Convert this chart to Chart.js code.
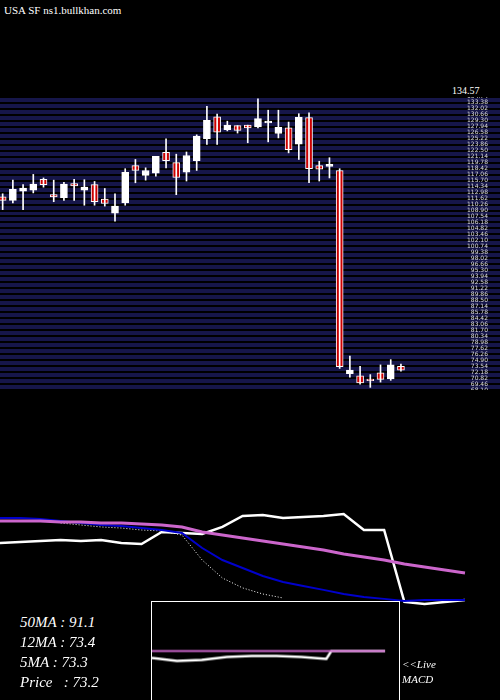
<!DOCTYPE html>
<html><head><meta charset="utf-8">
<script src="https://cdn.jsdelivr.net/npm/chart.js@4"></script>
<style>
body{margin:0;background:#000;width:500px;height:700px;overflow:hidden;position:relative;font-family:"DejaVu Serif","Liberation Serif",serif;}
canvas{position:absolute;}
.t{position:absolute;color:#fff;font-family:"Liberation Serif",serif;font-style:italic;white-space:pre;}
</style></head><body>
<div class="t" style="left:4px;top:4px;font-size:11px;font-style:normal;">USA SF ns1.bullkhan.com</div>
<div class="t" style="left:452px;top:85px;font-size:10px;font-style:normal;">134.57</div>
<canvas id="c1" width="500" height="293" style="left:0;top:97px"></canvas>
<canvas id="c2" width="500" height="110" style="left:0;top:500px"></canvas>
<canvas id="c3" width="249" height="99" style="left:151px;top:601px;border:1px solid #fff;border-bottom:none;background:#000"></canvas>
<div class="t" style="left:20px;top:614px;font-size:15px;">50MA : 91.1</div>
<div class="t" style="left:20px;top:634px;font-size:15px;">12MA : 73.4</div>
<div class="t" style="left:20px;top:654px;font-size:15px;">5MA : 73.3</div>
<div class="t" style="left:20px;top:674px;font-size:15px;">Price   : 73.2</div>
<div class="t" style="left:402px;top:658px;font-size:11px;">&lt;&lt;Live</div>
<div class="t" style="left:402px;top:673px;font-size:11px;">MACD</div>
<script>
const opens  =[112.0,111.2,113.3,113.5,116.0,112.5,111.8,115.0,113.5,114.8,111.5,108.3,110.6,119.1,116.9,117.4,122.1,119.8,117.6,120.2,125.2,130.2,127.3,128.2,128.3,127.9,128.8,126.4,127.7,124.0,130.0,119.1,118.9,118.0,71.8,71.3,70.6,72.0,70.6,73.5];
const closes =[111.2,113.7,114.0,114.9,114.8,112.0,114.9,114.5,114.2,110.9,110.5,109.9,117.6,118.0,118.0,121.2,120.2,116.4,121.4,125.8,129.4,126.7,128.3,127.1,127.7,129.8,129.2,127.8,122.7,130.1,118.4,118.3,119.4,73.4,72.6,69.7,70.2,70.5,73.8,72.6];
const highs  =[112.7,115.8,114.8,117.1,116.3,115.8,115.3,116.0,115.9,115.5,113.9,112.7,118.4,120.5,118.6,121.2,125.2,121.7,122.2,126.1,132.6,130.8,129.2,128.2,128.3,134.3,131.7,131.7,129.0,130.9,131.1,120.1,120.9,118.4,75.8,73.5,71.6,73.8,75.0,74.0];
const lows   =[109.1,110.6,109.1,112.9,114.2,110.9,111.2,111.2,110.1,110.1,109.9,106.5,110.1,115.2,115.8,116.7,118.6,112.5,115.6,118.0,123.9,123.9,127.0,126.5,124.3,127.7,124.5,125.4,122.0,120.5,115.2,115.6,116.3,73.0,71.0,69.4,68.7,69.9,70.3,72.4];
const maLabels=[0,20,40,60,80,100,120,140,160,180,200,220,240,260,280,300,320,340,360,380,400,420,440,460];
const priceLine=[110.8,111.4,112.1,112.8,112.1,112.8,110.8,110.1,118.0,117.4,116.7,121.3,128.5,129.2,127.2,127.8,128.5,129.8,119.3,119.3,72.1,70.8,72.1,73.4];
const ma12=[127.2,127.2,126.5,125.2,123.9,122.6,121.9,120.6,119.3,117.4,107.5,99.6,94.4,89.1,85.2,82.6,80.0,77.3,75.4,74.1,72.7,73.4,73.4,73.4];
const ma50=[125.2,125.2,125.2,124.6,124.6,123.9,123.9,123.3,122.6,121.3,118.0,116.0,114.1,112.1,110.1,108.2,106.2,103.6,101.6,99.6,97.0,95.0,93.1,91.1];
const maDot=[null,null,null,123.9,122.6,121.3,120.6,119.3,118.7,116.0,99.6,87.8,81.3,77.3,74.7,null,null,null,null,null,null,null,null,null];
const macdX=[0,25,50,75,100,125,150,175,180,200,225,234];
const macdLine=[-7,-10,-9,-6,-5,-5,-6,-8,0,0,0,0];
const macdSignal=[0,0,0,0,0,0,0,0,0,0,0,0];

Chart.defaults.animation=false;
Chart.defaults.devicePixelRatio=1;
const idx=opens.map((_,i)=>i);
const bg={id:'bg',
 beforeDraw(c){const a=c.chartArea,x=c.ctx;x.save();x.fillStyle='#16164a';x.fillRect(a.left,a.top,a.right-a.left,a.bottom-a.top);x.restore();},
 afterDraw(c){const s=c.scales.y,x=c.ctx;x.save();x.fillStyle='#ddd';x.font='6px "DejaVu Sans"';x.textAlign='right';x.textBaseline='middle';
  s.ticks.forEach(t=>{x.fillText(t.value.toFixed(2),488,s.getPixelForValue(t.value));});x.restore();}};
new Chart(document.getElementById('c1'),{
 type:'bar',
 data:{datasets:[
  {data:idx.map(i=>({x:i,y:[lows[i],highs[i]]})),backgroundColor:'#fff',barThickness:1,grouped:false},
  {data:idx.map(i=>({x:i,y:[opens[i],closes[i]]})),backgroundColor:idx.map(i=>closes[i]>=opens[i]?'#fff':'#cc0000'),borderColor:'#fff',borderWidth:1,borderSkipped:false,barThickness:7,grouped:false}
 ]},
 options:{responsive:false,plugins:{legend:{display:false},tooltip:{enabled:false}},layout:{padding:0},
  scales:{
   x:{type:'linear',min:-0.26,max:48.7,display:false,offset:false},
   y:{position:'right',min:68.1,max:134.7,afterFit(s){s.width=0;},border:{display:false},
      afterBuildTicks(s){const t=[];for(let v=68.1;v<=134.8;v+=1.36)t.push({value:v});s.ticks=t;},
      grid:{color:'#000',lineWidth:2,drawTicks:false},
      ticks:{display:false}}
  }},
 plugins:[bg]
});
new Chart(document.getElementById('c2'),{
 type:'line',
 data:{labels:maLabels,datasets:[
  {data:ma50,borderColor:'#cc66cc',borderWidth:3,pointRadius:0},
  {data:ma12,borderColor:'#0000cc',borderWidth:2,pointRadius:0},
  {data:maDot,borderColor:'#fff',borderWidth:1,borderDash:[1,2],pointRadius:0},
  {data:priceLine,borderColor:'#fff',borderWidth:2.5,pointRadius:0}
 ]},
 options:{responsive:false,plugins:{legend:{display:false},tooltip:{enabled:false}},layout:{padding:{right:35}},
  scales:{x:{type:'category',display:false,offset:false},y:{min:66.8,max:139.0,display:false}}}
});
new Chart(document.getElementById('c3'),{
 type:'line',
 data:{labels:macdX,datasets:[
  {data:macdSignal,borderColor:'#cc66cc',borderWidth:2,pointRadius:0},
  {data:macdLine,borderColor:'#fff',borderWidth:2.5,pointRadius:0}
 ]},
 options:{responsive:false,plugins:{legend:{display:false},tooltip:{enabled:false}},
  scales:{x:{type:'linear',min:0,max:248,display:false},y:{min:-50,max:50,display:false}}}
});
</script></body></html>
